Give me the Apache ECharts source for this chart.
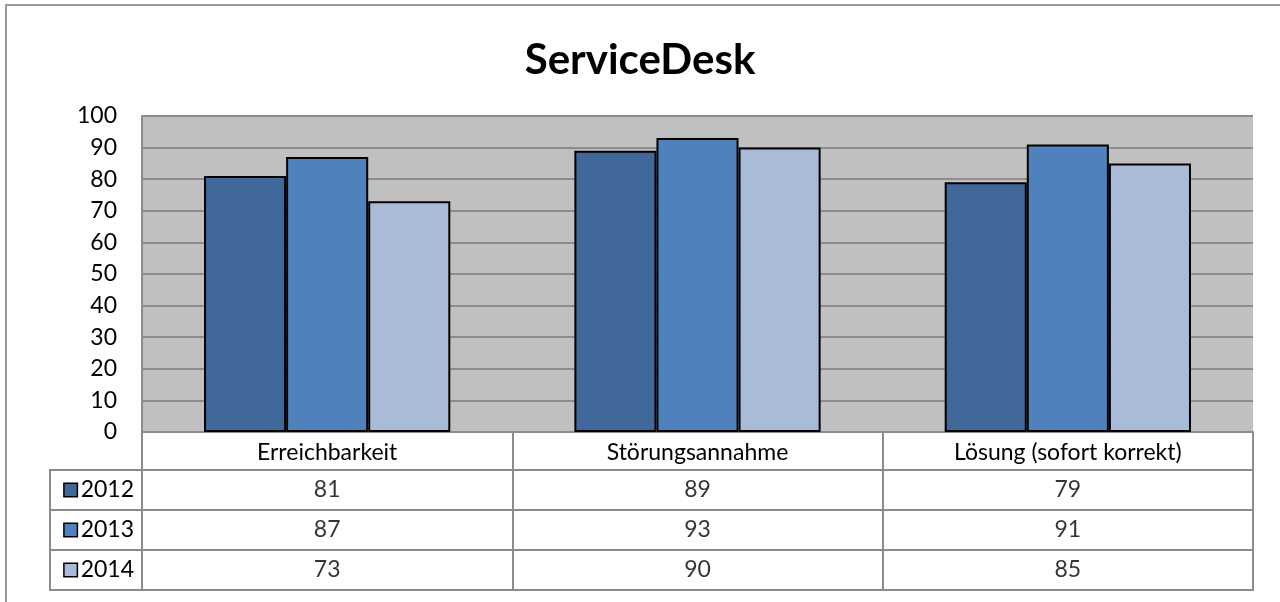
<!DOCTYPE html>
<html>
<head>
<meta charset="utf-8">
<script src="https://cdn.jsdelivr.net/npm/echarts@6/dist/echarts.min.js"></script>
<style>
  html, body { margin: 0; padding: 0; background: #fff; }
  #chart { width: 1280px; height: 602px; }
</style>
</head>
<body>
<div id="chart"></div>
<script>
// data
const categories = ['Erreichbarkeit', 'Störungsannahme', 'Lösung (sofort korrekt)'];
const years = ['2012', '2013', '2014'];
const values2012 = [81, 89, 79];
const values2013 = [87, 93, 91];
const values2014 = [73, 90, 85];
const yTicks = [0, 10, 20, 30, 40, 50, 60, 70, 80, 90, 100];

const seriesValues = [values2012, values2013, values2014];
const colors = ['#41689a', '#4f81bd', '#aabad9'];
const lineGray = '#8c8c8c';
const font = 'Lato, "Open Sans", sans-serif';

let chart = echarts.init(document.getElementById('chart'));

let rich = { t: { fontSize: 23, color: '#000', fontFamily: font, padding: [0, 0, 0, 4] } };
years.forEach((y, i) => {
  rich['k' + y] = { width: 12, height: 12, backgroundColor: colors[i], borderColor: '#000', borderWidth: 1.5 };
});

let barSeries = years.map((y, i) => ({
  name: y,
  type: 'bar',
  xAxisIndex: 0,
  yAxisIndex: 0,
  barGap: '0%',
  barCategoryGap: '33.5%',
  itemStyle: { color: colors[i], borderColor: '#000', borderWidth: 2 },
  data: seriesValues[i]
}));

let tableSeries = years.map((y, i) => ({
  name: 'tab' + y,
  type: 'scatter',
  xAxisIndex: 1,
  yAxisIndex: 1,
  symbolSize: 1,
  itemStyle: { color: 'rgba(0,0,0,0)' },
  label: {
    show: true,
    position: 'inside',
    color: '#000',
    fontSize: 23,
    fontFamily: font,
    formatter: p => String(p.value[2])
  },
  data: seriesValues[i].map((v, j) => [categories[j], y, v])
}));

let option = {
  backgroundColor: '#fff',
  animation: false,
  title: {
    text: 'ServiceDesk',
    left: 'center',
    top: 34,
    textStyle: { fontSize: 42, fontWeight: 'bold', color: '#000', fontFamily: font }
  },
  graphic: [{
    type: 'rect',
    shape: { x: 6, y: 5, width: 1400, height: 800 },
    style: { fill: 'none', stroke: '#999', lineWidth: 2 },
    silent: true
  }],
  grid: [
    { left: 142, right: 27, top: 116, height: 316, show: true, backgroundColor: '#c0c0c0', borderWidth: 0 },
    { left: 142, right: 27, top: 470, height: 120, show: true, borderColor: lineGray, borderWidth: 2 },
    { left: 50, width: 92, top: 470, height: 120, show: true, borderColor: lineGray, borderWidth: 2 }
  ],
  xAxis: [
    {
      gridIndex: 0,
      type: 'category',
      data: categories,
      axisLine: { show: true, lineStyle: { color: lineGray, width: 2 } },
      axisTick: { show: true, interval: 0, length: 38, lineStyle: { color: lineGray, width: 2 } },
      axisLabel: { interval: 0, margin: 9, fontSize: 23, color: '#000', fontFamily: font }
    },
    {
      gridIndex: 1,
      type: 'category',
      data: categories,
      axisLine: { show: false },
      axisTick: { show: false },
      axisLabel: { show: false },
      splitLine: { show: true, interval: 0, lineStyle: { color: lineGray, width: 2 } }
    },
    {
      gridIndex: 2,
      type: 'value',
      show: false
    }
  ],
  yAxis: [
    {
      gridIndex: 0,
      type: 'value',
      min: 0,
      max: 100,
      interval: 10,
      axisLine: { show: true, lineStyle: { color: lineGray, width: 2 } },
      axisTick: { show: false },
      axisLabel: {
        margin: 25,
        fontSize: 23,
        color: '#000',
        fontFamily: font,
        formatter: v => yTicks.includes(v) ? String(v) : ''
      },
      splitLine: { show: true, lineStyle: { color: lineGray, width: 2 } }
    },
    {
      gridIndex: 1,
      type: 'category',
      inverse: true,
      data: years,
      axisLine: { show: false },
      axisTick: { show: false },
      axisLabel: {
        margin: 8,
        formatter: v => '{k' + v + '|}{t|' + v + '}',
        rich: rich
      },
      splitLine: { show: true, interval: 0, lineStyle: { color: lineGray, width: 2 } }
    },
    {
      gridIndex: 2,
      type: 'category',
      inverse: true,
      data: years,
      axisLine: { show: false },
      axisTick: { show: false },
      axisLabel: { show: false },
      splitLine: { show: true, interval: 0, lineStyle: { color: lineGray, width: 2 } }
    }
  ],
  series: barSeries.concat(tableSeries)
};

chart.setOption(option);
</script>
</body>
</html>
